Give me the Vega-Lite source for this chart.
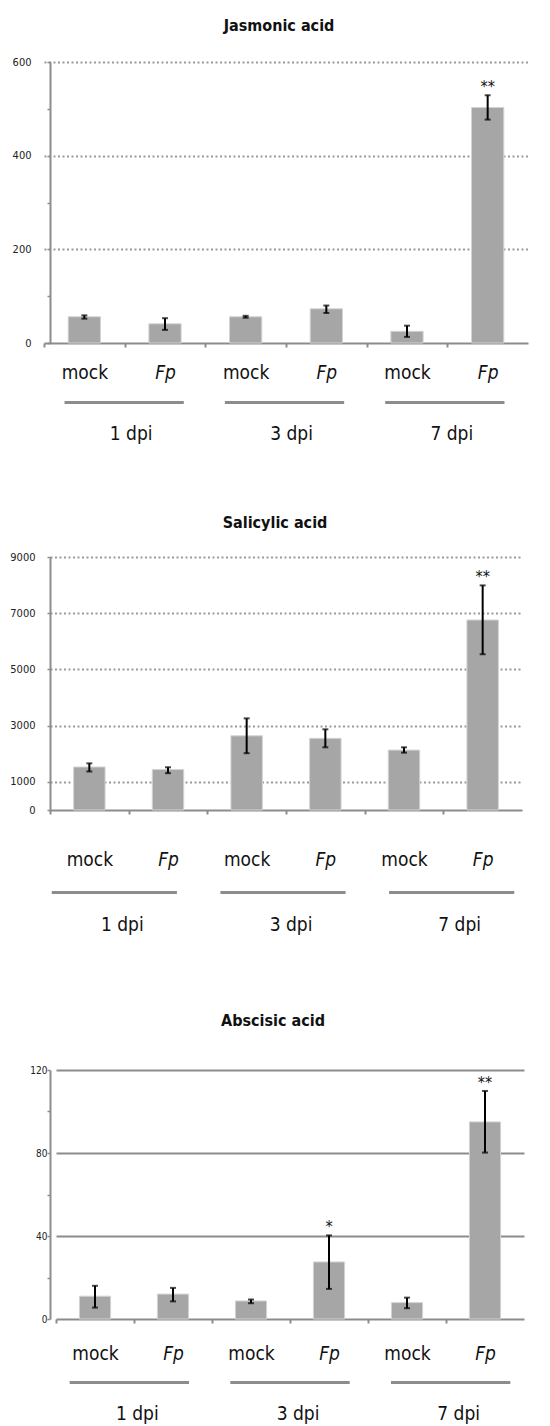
{
  "$schema": "https://vega.github.io/schema/vega-lite/v6.json",
  "padding": {"left": 0, "right": 0, "top": 17, "bottom": 0},
  "background": "white",
  "config": {
    "view": {"stroke": null},
    "font": "'DejaVu Sans Condensed', 'Liberation Sans Narrow', sans-serif"
  },
  "datasets": {
    "ja": [
      {"key": "1 dpi|mock", "day": "1 dpi", "value": 56, "lo": 52, "hi": 59, "sig": ""},
      {"key": "1 dpi|Fp", "day": "1 dpi", "value": 41, "lo": 28, "hi": 53, "sig": ""},
      {"key": "3 dpi|mock", "day": "3 dpi", "value": 56, "lo": 54, "hi": 58, "sig": ""},
      {"key": "3 dpi|Fp", "day": "3 dpi", "value": 73, "lo": 64, "hi": 80, "sig": ""},
      {"key": "7 dpi|mock", "day": "7 dpi", "value": 25, "lo": 13, "hi": 37, "sig": ""},
      {"key": "7 dpi|Fp", "day": "7 dpi", "value": 503, "lo": 477, "hi": 529, "sig": "**"}
    ],
    "sa": [
      {"key": "1 dpi|mock", "day": "1 dpi", "value": 1530, "lo": 1370, "hi": 1660, "sig": ""},
      {"key": "1 dpi|Fp", "day": "1 dpi", "value": 1440, "lo": 1310, "hi": 1520, "sig": ""},
      {"key": "3 dpi|mock", "day": "3 dpi", "value": 2640, "lo": 2020, "hi": 3260, "sig": ""},
      {"key": "3 dpi|Fp", "day": "3 dpi", "value": 2550, "lo": 2230, "hi": 2870, "sig": ""},
      {"key": "7 dpi|mock", "day": "7 dpi", "value": 2130, "lo": 2040, "hi": 2230, "sig": ""},
      {"key": "7 dpi|Fp", "day": "7 dpi", "value": 6760, "lo": 5540, "hi": 7990, "sig": "**"}
    ],
    "aba": [
      {"key": "1 dpi|mock", "day": "1 dpi", "value": 11, "lo": 5.5, "hi": 16, "sig": ""},
      {"key": "1 dpi|Fp", "day": "1 dpi", "value": 12, "lo": 8.5, "hi": 15, "sig": ""},
      {"key": "3 dpi|mock", "day": "3 dpi", "value": 8.7, "lo": 7.6, "hi": 9.4, "sig": ""},
      {"key": "3 dpi|Fp", "day": "3 dpi", "value": 27.5, "lo": 14.5, "hi": 40.3, "sig": "*"},
      {"key": "7 dpi|mock", "day": "7 dpi", "value": 7.9, "lo": 5.2, "hi": 10.3, "sig": ""},
      {"key": "7 dpi|Fp", "day": "7 dpi", "value": 95, "lo": 80.2, "hi": 109.9, "sig": "**"}
    ]
  },
  "spacing": 0,
  "columns": 1,
  "align": "none",
  "concat": [
    {
      "title": {"text": "Jasmonic acid", "fontSize": 16, "fontWeight": "bold", "color": "#111111", "offset": 22.5, "anchor": "middle", "frame": "bounds", "dx": 4},
      "width": 500,
      "height": 281,
      "data": {"name": "ja"},
      "encoding": {
        "x": {"field": "key", "type": "nominal", "sort": null, "title": null,
          "scale": {"range": [-6, 478], "paddingInner": 0.6, "paddingOuter": 0.3},
          "axis": {"domain": false, "ticks": true, "tickOffset": -40.33, "labelOffset": 40.33, "tickSize": 4, "tickColor": "#8c8c8c", "tickWidth": 2,
            "labelExpr": "split(datum.value, '|')[1]",
            "labelFontStyle": {"condition": {"test": "indexof(datum.value, 'Fp') >= 0", "value": "italic"}, "value": "normal"},
            "labelFontSize": 19, "labelPadding": 16, "labelAngle": 0, "labelColor": "#111111", "labelOverlap": false, "grid": false,
            "minExtent": 58, "maxExtent": 58}
        }
      },
      "layer": [
        {"mark": {"type": "bar", "color": "#a6a6a6", "stroke": "#d4d4d4", "strokeWidth": 1},
          "encoding": {"y": {"field": "value", "type": "quantitative", "title": null,
            "scale": {"domain": [0, 600], "nice": false},
            "axis": {"values": [0, 100, 200, 300, 400, 500, 600],
              "labelExpr": "datum.value % 200 == 0 ? datum.label : ''",
              "grid": true,
              "gridColor": {"condition": {"test": "datum.value == 0", "value": "#8c8c8c"}, "value": "#9a9a9a"},
              "gridDash": {"condition": {"test": "datum.value == 0", "value": []}, "value": [2, 2.5]},
              "gridWidth": 2,
              "gridOpacity": {"condition": {"test": "datum.value % 200 != 0", "value": 0}, "value": 1},
              "domainColor": "#8c8c8c", "domainWidth": 2, "tickColor": "#8c8c8c", "tickSize": 3, "tickWidth": 1.5,
              "labelFontSize": 11, "labelPadding": 16, "labelColor": "#222222", "minExtent": 50, "maxExtent": 50}}}},
        {"mark": {"type": "rule", "color": "black", "strokeWidth": 2},
          "encoding": {"y": {"field": "lo", "type": "quantitative", "title": null}, "y2": {"field": "hi"}}},
        {"mark": {"type": "tick", "color": "black", "thickness": 2, "size": 6, "orient": "horizontal"},
          "encoding": {"y": {"field": "lo", "type": "quantitative", "title": null}}},
        {"mark": {"type": "tick", "color": "black", "thickness": 2, "size": 6, "orient": "horizontal"},
          "encoding": {"y": {"field": "hi", "type": "quantitative", "title": null}}},
        {"mark": {"type": "text", "fontSize": 16, "baseline": "alphabetic", "dy": -3, "color": "#111111"},
          "encoding": {"y": {"field": "hi", "type": "quantitative", "title": null}, "text": {"field": "sig"}}}
      ]
    },
    {
      "width": 500,
      "height": 3,
      "data": {"name": "ja"},
      "transform": [{"aggregate": [{"op": "count", "as": "n"}], "groupby": ["day"]}],
      "mark": {"type": "bar", "color": "#8c8c8c"},
      "encoding": {
        "x": {"field": "day", "type": "nominal", "sort": null, "title": null,
          "scale": {"range": [-6, 475], "paddingInner": 0.256, "paddingOuter": 0.128},
          "axis": {"domain": false, "ticks": false, "tickSize": 0, "labelPadding": 20, "labelFontSize": 19, "labelOffset": 7, "labelAngle": 0, "labelColor": "#111111", "minExtent": 110, "maxExtent": 110, "grid": false}},
        "y": {"datum": "g", "type": "nominal", "title": null, "scale": {"paddingInner": 0, "paddingOuter": 0},
          "axis": {"labels": false, "ticks": false, "domain": false, "grid": false, "minExtent": 50, "maxExtent": 50}}
      }
    },
    {
      "title": {"text": "Salicylic acid", "fontSize": 16, "fontWeight": "bold", "color": "#111111", "offset": 20.5, "anchor": "middle", "frame": "bounds"},
      "width": 500,
      "height": 253,
      "data": {"name": "sa"},
      "encoding": {
        "x": {"field": "key", "type": "nominal", "sort": null, "title": null,
          "scale": {"range": [0, 472], "paddingInner": 0.6, "paddingOuter": 0.3},
          "axis": {"domain": false, "ticks": true, "tickOffset": -39.33, "labelOffset": 39.33, "tickSize": 4, "tickColor": "#8c8c8c", "tickWidth": 2,
            "labelExpr": "split(datum.value, '|')[1]",
            "labelFontStyle": {"condition": {"test": "indexof(datum.value, 'Fp') >= 0", "value": "italic"}, "value": "normal"},
            "labelFontSize": 19, "labelPadding": 36, "labelAngle": 0, "labelColor": "#111111", "labelOverlap": false, "grid": false,
            "minExtent": 81, "maxExtent": 81}
        }
      },
      "layer": [
        {"mark": {"type": "bar", "color": "#a6a6a6", "stroke": "#d4d4d4", "strokeWidth": 1},
          "encoding": {"y": {"field": "value", "type": "quantitative", "title": null,
            "scale": {"domain": [0, 9000], "nice": false},
            "axis": {"values": [0, 1000, 3000, 5000, 7000, 9000],
              "labelExpr": "replace(datum.label, ',', '')",
              "grid": true,
              "gridColor": {"condition": {"test": "datum.value == 0", "value": "#8c8c8c"}, "value": "#9a9a9a"},
              "gridDash": {"condition": {"test": "datum.value == 0", "value": []}, "value": [2, 2.5]},
              "gridWidth": 2,
              "domainColor": "#8c8c8c", "domainWidth": 2, "tickColor": "#8c8c8c", "tickSize": 3, "tickWidth": 1.5,
              "labelFontSize": 11, "labelPadding": 12, "labelColor": "#222222", "minExtent": 50, "maxExtent": 50}}}},
        {"mark": {"type": "rule", "color": "black", "strokeWidth": 2},
          "encoding": {"y": {"field": "lo", "type": "quantitative", "title": null}, "y2": {"field": "hi"}}},
        {"mark": {"type": "tick", "color": "black", "thickness": 2, "size": 6, "orient": "horizontal"},
          "encoding": {"y": {"field": "lo", "type": "quantitative", "title": null}}},
        {"mark": {"type": "tick", "color": "black", "thickness": 2, "size": 6, "orient": "horizontal"},
          "encoding": {"y": {"field": "hi", "type": "quantitative", "title": null}}},
        {"mark": {"type": "text", "fontSize": 16, "baseline": "alphabetic", "dy": -3, "color": "#111111"},
          "encoding": {"y": {"field": "hi", "type": "quantitative", "title": null}, "text": {"field": "sig"}}}
      ]
    },
    {
      "width": 500,
      "height": 3,
      "data": {"name": "sa"},
      "transform": [{"aggregate": [{"op": "count", "as": "n"}], "groupby": ["day"]}],
      "mark": {"type": "bar", "color": "#8c8c8c"},
      "encoding": {
        "x": {"field": "day", "type": "nominal", "sort": null, "title": null,
          "scale": {"range": [-20, 486], "paddingInner": 0.258, "paddingOuter": 0.129},
          "axis": {"domain": false, "ticks": false, "tickSize": 0, "labelPadding": 21.5, "labelFontSize": 19, "labelOffset": 8, "labelAngle": 0, "labelColor": "#111111", "minExtent": 118, "maxExtent": 118, "grid": false}},
        "y": {"datum": "g", "type": "nominal", "title": null, "scale": {"paddingInner": 0, "paddingOuter": 0},
          "axis": {"labels": false, "ticks": false, "domain": false, "grid": false, "minExtent": 50, "maxExtent": 50}}
      }
    },
    {
      "title": {"text": "Abscisic acid", "fontSize": 16, "fontWeight": "bold", "color": "#111111", "offset": 36.5, "anchor": "middle", "frame": "bounds", "dx": -2},
      "width": 500,
      "height": 249,
      "data": {"name": "aba"},
      "encoding": {
        "x": {"field": "key", "type": "nominal", "sort": null, "title": null,
          "scale": {"range": [6, 474], "paddingInner": 0.6, "paddingOuter": 0.3},
          "axis": {"domain": false, "ticks": true, "tickOffset": -39, "labelOffset": 39, "tickSize": 4, "tickColor": "#8c8c8c", "tickWidth": 2,
            "labelExpr": "split(datum.value, '|')[1]",
            "labelFontStyle": {"condition": {"test": "indexof(datum.value, 'Fp') >= 0", "value": "italic"}, "value": "normal"},
            "labelFontSize": 19, "labelPadding": 21, "labelAngle": 0, "labelColor": "#111111", "labelOverlap": false, "grid": false,
            "minExtent": 62, "maxExtent": 62}
        }
      },
      "layer": [
        {"mark": {"type": "bar", "color": "#a6a6a6", "stroke": "#d4d4d4", "strokeWidth": 1},
          "encoding": {"y": {"field": "value", "type": "quantitative", "title": null,
            "scale": {"domain": [0, 120], "nice": false},
            "axis": {"values": [0, 20, 40, 60, 80, 100, 120],
              "labelExpr": "datum.value % 40 == 0 ? datum.label : ''",
              "grid": true,
              "gridColor": "#8c8c8c",
              "gridWidth": 2,
              "gridOpacity": {"condition": {"test": "datum.value % 40 != 0", "value": 0}, "value": 1},
              "domainColor": "#8c8c8c", "domainWidth": 2, "tickColor": "#8c8c8c", "tickSize": 3, "tickWidth": 1.5,
              "labelFontSize": 10, "labelPadding": 0, "labelColor": "#222222", "minExtent": 50, "maxExtent": 50}}}},
        {"mark": {"type": "rule", "color": "black", "strokeWidth": 2},
          "encoding": {"y": {"field": "lo", "type": "quantitative", "title": null}, "y2": {"field": "hi"}}},
        {"mark": {"type": "tick", "color": "black", "thickness": 2, "size": 6, "orient": "horizontal"},
          "encoding": {"y": {"field": "lo", "type": "quantitative", "title": null}}},
        {"mark": {"type": "tick", "color": "black", "thickness": 2, "size": 6, "orient": "horizontal"},
          "encoding": {"y": {"field": "hi", "type": "quantitative", "title": null}}},
        {"mark": {"type": "text", "fontSize": 16, "baseline": "alphabetic", "dy": -3, "color": "#111111"},
          "encoding": {"y": {"field": "hi", "type": "quantitative", "title": null}, "text": {"field": "sig"}}}
      ]
    },
    {
      "width": 500,
      "height": 3,
      "data": {"name": "aba"},
      "transform": [{"aggregate": [{"op": "count", "as": "n"}], "groupby": ["day"]}],
      "mark": {"type": "bar", "color": "#8c8c8c"},
      "encoding": {
        "x": {"field": "day", "type": "nominal", "sort": null, "title": null,
          "scale": {"range": [-1, 481], "paddingInner": 0.257, "paddingOuter": 0.1285},
          "axis": {"domain": false, "ticks": false, "tickSize": 0, "labelPadding": 20.5, "labelFontSize": 19, "labelOffset": 8, "labelAngle": 0, "labelColor": "#111111", "grid": false}},
        "y": {"datum": "g", "type": "nominal", "title": null, "scale": {"paddingInner": 0, "paddingOuter": 0},
          "axis": {"labels": false, "ticks": false, "domain": false, "grid": false, "minExtent": 50, "maxExtent": 50}}
      }
    }
  ]
}
